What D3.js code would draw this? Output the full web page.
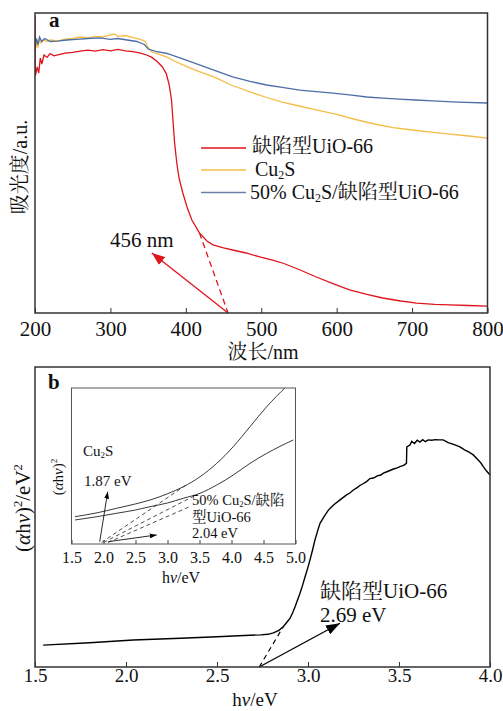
<!DOCTYPE html>
<html lang="zh">
<head>
<meta charset="UTF-8">
<title>UV-vis and Tauc plots</title>
<script src="https://d3js.org/d3.v7.min.js"></script>
<style>
  body { margin: 0; background: #fff; }
  svg text { font-family: "Liberation Serif", "Noto Serif CJK SC", "Noto Sans CJK SC", serif; fill: #111; }
</style>
</head>
<body>
<div id="chart"></div>
<script>
// ---- panel a data: wavelength (nm), absorbance (a.u.) ----
const redUio = [[200,0.99],[200.4,0.79],[203,0.82],[205,0.80],[207,0.85],[209,0.83],[212,0.86],[216,0.852],[220,0.865],[225,0.857],[233,0.862],[240,0.866],[250,0.869],[260,0.873],[270,0.876],[280,0.873],[290,0.878],[300,0.874],[310,0.879],[320,0.874],[330,0.871],[340,0.866],[348,0.86],[355,0.852],[362,0.838],[369,0.82],[374,0.798],[378,0.76],[381,0.71],[383,0.64],[385,0.57],[388,0.5],[391,0.45],[396,0.4],[402,0.35],[408,0.31],[418,0.267],[428,0.24],[436,0.227],[450,0.217],[462,0.21],[480,0.2],[498,0.187],[515,0.176],[530,0.165],[550,0.145],[573,0.12],[595,0.098],[617,0.077],[640,0.062],[661,0.05],[685,0.04],[706,0.033],[730,0.029],[750,0.027],[775,0.025],[800,0.023]];
const cu2s = [[200,0.87],[202,0.90],[204,0.885],[206,0.915],[208,0.9],[211,0.912],[215,0.905],[220,0.91],[230,0.907],[240,0.913],[250,0.915],[260,0.92],[270,0.917],[280,0.922],[290,0.92],[300,0.927],[305,0.93],[310,0.922],[320,0.925],[330,0.918],[340,0.912],[346,0.905],[350,0.885],[355,0.87],[365,0.862],[375,0.853],[385,0.84],[396,0.827],[410,0.812],[425,0.798],[441,0.783],[460,0.76],[485,0.737],[505,0.72],[528,0.703],[550,0.69],[573,0.677],[600,0.662],[625,0.645],[650,0.63],[675,0.618],[700,0.61],[725,0.603],[750,0.596],[775,0.59],[800,0.583]];
const composite = [[200,0.88],[202,0.915],[204,0.895],[206,0.92],[209,0.905],[213,0.915],[220,0.905],[230,0.906],[242,0.91],[255,0.912],[270,0.915],[286,0.917],[300,0.912],[310,0.915],[322,0.91],[335,0.905],[345,0.895],[350,0.88],[360,0.872],[375,0.865],[395,0.848],[418,0.827],[440,0.807],[462,0.787],[485,0.772],[507,0.76],[530,0.751],[551,0.743],[573,0.738],[595,0.733],[617,0.727],[640,0.72],[661,0.716],[683,0.713],[705,0.71],[727,0.707],[760,0.703],[800,0.7]];
const nmTicks = [200, 300, 400, 500, 600, 700, 800];
const edgeTangent = [[418,0.267],[456,0]];
const edgeArrow = [[456,0],[355,0.2]];

// ---- panel b data: photon energy (eV), (αhν)² ----
const taucUio = [[1.545,0.073],[1.8,0.081],[2.04,0.09],[2.3,0.096],[2.5,0.101],[2.65,0.105],[2.74,0.107],[2.78,0.109],[2.81,0.114],[2.84,0.122],[2.864,0.134],[2.885,0.15],[2.901,0.162],[2.915,0.18],[2.929,0.201],[2.943,0.224],[2.956,0.246],[2.97,0.272],[2.984,0.301],[3.0,0.333],[3.011,0.357],[3.025,0.39],[3.038,0.423],[3.052,0.452],[3.066,0.479],[3.09,0.503],[3.112,0.523],[3.14,0.54],[3.176,0.557],[3.21,0.573],[3.23,0.58],[3.249,0.59],[3.27,0.598],[3.285,0.605],[3.3,0.61],[3.322,0.618],[3.34,0.628],[3.36,0.63],[3.38,0.637],[3.4,0.64],[3.414,0.646],[3.43,0.65],[3.45,0.655],[3.47,0.66],[3.49,0.664],[3.505,0.668],[3.525,0.672],[3.541,0.679],[3.543,0.734],[3.56,0.74],[3.57,0.752],[3.585,0.745],[3.6,0.756],[3.615,0.75],[3.63,0.758],[3.645,0.751],[3.66,0.757],[3.68,0.756],[3.7,0.758],[3.72,0.757],[3.743,0.757],[3.77,0.748],[3.8,0.742],[3.835,0.734],[3.86,0.724],[3.885,0.716],[3.908,0.707],[3.93,0.693],[3.95,0.68],[3.963,0.668],[3.98,0.654],[4.0,0.64]];
const evTicks = [1.5, 2.0, 2.5, 3.0, 3.5, 4.0];
const uioTangent = [[2.732,0],[2.864,0.134]];
const uioArrow = [[2.732,0],[3.176,0.146]];

// inset
const insetCu2s = [[1.555,0.175],[1.9,0.2],[2.206,0.229],[2.5,0.257],[2.727,0.282],[3.0,0.322],[3.247,0.367],[3.508,0.431],[3.769,0.517],[4.028,0.624],[4.289,0.752],[4.55,0.88],[4.852,1.008]];
const insetComposite = [[1.555,0.154],[1.9,0.175],[2.206,0.197],[2.5,0.218],[2.727,0.239],[3.0,0.263],[3.247,0.293],[3.508,0.325],[3.769,0.378],[4.028,0.442],[4.289,0.517],[4.55,0.581],[4.966,0.667]];
const insetTicks = [1.5, 2.0, 2.5, 3.0, 3.5, 4.0, 4.5, 5.0];
const insetTangents = [[[1.97,0.01],[3.28,0.375]], [[2.0,0.01],[3.45,0.315]], [[2.07,0.01],[3.35,0.24]]];
const insetArrows = [[[1.941,0.015],[2.066,0.335]], [[2.075,0.015],[2.831,0.058]]];

const colors = { red: "#e0141c", yellow: "#f4bd45", blue: "#4d6ea6" };

const svg = d3.select("#chart").append("svg")
  .attr("width", 503).attr("height", 711);

const defs = svg.append("defs");
function marker(id, color, len, wid) {
  defs.append("marker").attr("id", id)
    .attr("viewBox", `0 0 ${len} ${wid}`).attr("refX", len).attr("refY", wid / 2)
    .attr("markerWidth", len).attr("markerHeight", wid)
    .attr("markerUnits", "userSpaceOnUse").attr("orient", "auto")
    .append("path").attr("d", `M0,0L${len},${wid / 2}L0,${wid}Z`).attr("fill", color);
}
marker("arRed", colors.red, 13, 10);
marker("arBlack", "#000", 14, 10);
marker("arSmall", "#000", 7, 5);

// text with sub/superscripts and italics
function rich(sel, parts, size) {
  parts.forEach(p => {
    const o = typeof p === "string" ? { t: p } : p;
    const ts = sel.append("tspan").text(o.t);
    if (o.sub) ts.attr("font-size", size * 0.6).attr("dy", size * 0.15);
    if (o.sup) ts.attr("font-size", size * 0.6).attr("dy", -size * 0.4);
    if (o.it) ts.attr("font-style", "italic");
    if (o.back) ts.attr("dy", o.back);
  });
}

// ===== panel a =====
const A = { l: 35, r: 487.5, t: 13, b: 313 };
const xA = d3.scaleLinear().domain([200, 800]).range([A.l, A.r]);
const yA = d3.scaleLinear().domain([0, 1]).range([A.b, A.t]);

defs.append("clipPath").attr("id", "clipA").append("rect")
  .attr("x", A.l).attr("y", A.t).attr("width", A.r - A.l).attr("height", A.b - A.t);

const lineA = d3.line().x(d => xA(d[0])).y(d => yA(d[1]));
const gA = svg.append("g").attr("clip-path", "url(#clipA)");
[[cu2s, colors.yellow], [composite, colors.blue], [redUio, colors.red]].forEach(([d, c]) => {
  gA.append("path").datum(d).attr("fill", "none").attr("stroke", c)
    .attr("stroke-width", 1.3).attr("d", lineA);
});

svg.append("path").datum(edgeTangent).attr("d", lineA).attr("fill", "none")
  .attr("stroke", colors.red).attr("stroke-width", 1.3).attr("stroke-dasharray", "6,4");
svg.append("path").datum(edgeArrow).attr("d", lineA).attr("fill", "none")
  .attr("stroke", colors.red).attr("stroke-width", 1.3).attr("marker-end", "url(#arRed)");

const axA = svg.append("g").attr("transform", `translate(0,${A.b})`)
  .call(d3.axisBottom(xA).tickValues(nmTicks).tickSizeInner(-5).tickSizeOuter(0));
axA.select(".domain").remove();
axA.selectAll(".tick line").attr("stroke", "#333");
axA.selectAll(".tick text").attr("y", 23).attr("dy", null)
  .attr("font-size", 21).attr("font-family", null).attr("fill", "#111");

svg.append("rect").attr("x", A.l).attr("y", A.t).attr("width", A.r - A.l).attr("height", A.b - A.t)
  .attr("fill", "none").attr("stroke", "#333").attr("stroke-width", 1.5);

svg.append("text").attr("x", 49).attr("y", 27).attr("font-size", 21).attr("font-weight", "bold").text("a");
svg.append("text").attr("x", 263).attr("y", 359).attr("text-anchor", "middle").attr("font-size", 20).text("波长/nm");
svg.append("text").attr("transform", "translate(27,167) rotate(-90)").attr("text-anchor", "middle")
  .attr("font-size", 20).text("吸光度/a.u.");
svg.append("text").attr("x", 110).attr("y", 247).attr("font-size", 21).text("456 nm");

// legend
const legend = [
  { c: colors.red, parts: ["缺陷型UiO-66"], x: 252, ly: 148, ty: 153 },
  { c: colors.yellow, parts: ["Cu", { t: "2", sub: true }, { t: "S", back: -3 }], x: 255, ly: 170, ty: 175.5 },
  { c: "#6b80a8", parts: ["50% Cu", { t: "2", sub: true }, { t: "S/缺陷型UiO-66", back: -3 }], x: 250, ly: 192.5, ty: 199 }
];
legend.forEach(e => {
  svg.append("line").attr("x1", 201).attr("x2", 246).attr("y1", e.ly).attr("y2", e.ly)
    .attr("stroke", e.c).attr("stroke-width", 1.5);
  rich(svg.append("text").attr("x", e.x).attr("y", e.ty).attr("font-size", 20), e.parts, 20);
});

// ===== panel b =====
const B = { l: 35, r: 490, t: 367, b: 667 };
const xB = d3.scaleLinear().domain([1.5, 4.0]).range([B.l, B.r]);
const yB = d3.scaleLinear().domain([0, 1]).range([B.b, B.t]);
const lineB = d3.line().x(d => xB(d[0])).y(d => yB(d[1]));

svg.append("path").datum(taucUio).attr("d", lineB).attr("fill", "none")
  .attr("stroke", "#000").attr("stroke-width", 1.4);
svg.append("path").datum(uioTangent).attr("d", lineB).attr("fill", "none")
  .attr("stroke", "#000").attr("stroke-width", 1.2).attr("stroke-dasharray", "5,4");
svg.append("path").datum(uioArrow).attr("d", lineB).attr("fill", "none")
  .attr("stroke", "#000").attr("stroke-width", 1.3).attr("marker-end", "url(#arBlack)");

const axB = svg.append("g").attr("transform", `translate(0,${B.b})`)
  .call(d3.axisBottom(xB).tickValues(evTicks).tickFormat(d3.format(".1f")).tickSizeInner(-5).tickSizeOuter(0));
axB.select(".domain").remove();
axB.selectAll(".tick line").attr("stroke", "#333");
axB.selectAll(".tick text").attr("y", 15).attr("dy", null)
  .attr("font-size", 19).attr("font-family", null).attr("fill", "#111");

svg.append("rect").attr("x", B.l).attr("y", B.t).attr("width", B.r - B.l).attr("height", B.b - B.t)
  .attr("fill", "none").attr("stroke", "#333").attr("stroke-width", 1.5);

svg.append("text").attr("x", 48).attr("y", 389).attr("font-size", 21).attr("font-weight", "bold").text("b");
rich(svg.append("text").attr("x", 255).attr("y", 706).attr("text-anchor", "middle").attr("font-size", 19),
  ["h", { t: "ν", it: true }, "/eV"], 19);
rich(svg.append("text").attr("transform", "translate(30,508) rotate(-90)").attr("text-anchor", "middle").attr("font-size", 21),
  ["(", { t: "α", it: true }, "h", { t: "ν", it: true }, ")", { t: "2", sup: true }, { t: "/eV", back: 8.4 }, { t: "2", sup: true }], 21);
svg.append("text").attr("x", 320).attr("y", 598).attr("font-size", 21).text("缺陷型UiO-66");
svg.append("text").attr("x", 320).attr("y", 622).attr("font-size", 21).text("2.69 eV");

// ----- inset -----
const I = { l: 71.5, r: 295.5, t: 388, b: 544 };
const xI = d3.scaleLinear().domain([1.5, 5.0]).range([I.l, I.r]);
const yI = d3.scaleLinear().domain([0, 1]).range([I.b, I.t]);
const lineI = d3.line().x(d => xI(d[0])).y(d => yI(d[1])).curve(d3.curveMonotoneX);

defs.append("clipPath").attr("id", "clipI").append("rect")
  .attr("x", I.l).attr("y", I.t).attr("width", I.r - I.l).attr("height", I.b - I.t);
svg.append("rect").attr("x", I.l).attr("y", I.t).attr("width", I.r - I.l).attr("height", I.b - I.t)
  .attr("fill", "#fff");

const gI = svg.append("g").attr("clip-path", "url(#clipI)");
[insetCu2s, insetComposite].forEach(d => {
  gI.append("path").datum(d).attr("d", lineI).attr("fill", "none")
    .attr("stroke", "#222").attr("stroke-width", 0.9);
});
const lineIL = d3.line().x(d => xI(d[0])).y(d => yI(d[1]));
insetTangents.forEach(d => {
  gI.append("path").datum(d).attr("d", lineIL).attr("fill", "none")
    .attr("stroke", "#222").attr("stroke-width", 0.8).attr("stroke-dasharray", "4,3");
});
insetArrows.forEach(d => {
  svg.append("path").datum(d).attr("d", lineIL).attr("fill", "none")
    .attr("stroke", "#111").attr("stroke-width", 0.9).attr("marker-end", "url(#arSmall)");
});

const axI = svg.append("g").attr("transform", `translate(0,${I.b})`)
  .call(d3.axisBottom(xI).tickValues(insetTicks).tickFormat(d3.format(".1f")).tickSizeInner(-4).tickSizeOuter(0));
axI.select(".domain").remove();
axI.selectAll(".tick line").attr("stroke", "#444");
axI.selectAll(".tick text").attr("y", 19).attr("dy", null)
  .attr("font-size", 16).attr("font-family", null).attr("fill", "#111");

svg.append("rect").attr("x", I.l).attr("y", I.t).attr("width", I.r - I.l).attr("height", I.b - I.t)
  .attr("fill", "none").attr("stroke", "#555").attr("stroke-width", 1);

rich(svg.append("text").attr("x", 181).attr("y", 583).attr("text-anchor", "middle").attr("font-size", 16),
  ["h", { t: "ν", it: true }, "/eV"], 16);
rich(svg.append("text").attr("transform", "translate(63,477) rotate(-90)").attr("text-anchor", "middle").attr("font-size", 15),
  ["(", { t: "α", it: true }, "h", { t: "ν", it: true }, ")", { t: "2", sup: true }], 15);
rich(svg.append("text").attr("x", 83).attr("y", 456).attr("font-size", 15),
  ["Cu", { t: "2", sub: true }, { t: "S", back: -2.25 }], 15);
svg.append("text").attr("x", 84).attr("y", 486).attr("font-size", 15).text("1.87 eV");
rich(svg.append("text").attr("x", 192).attr("y", 505).attr("font-size", 14.5),
  ["50% Cu", { t: "2", sub: true }, { t: "S/缺陷", back: -2.2 }], 14.5);
svg.append("text").attr("x", 192).attr("y", 522).attr("font-size", 14.5).text("型UiO-66");
svg.append("text").attr("x", 192).attr("y", 538).attr("font-size", 14.5).text("2.04 eV");
</script>
</body>
</html>
